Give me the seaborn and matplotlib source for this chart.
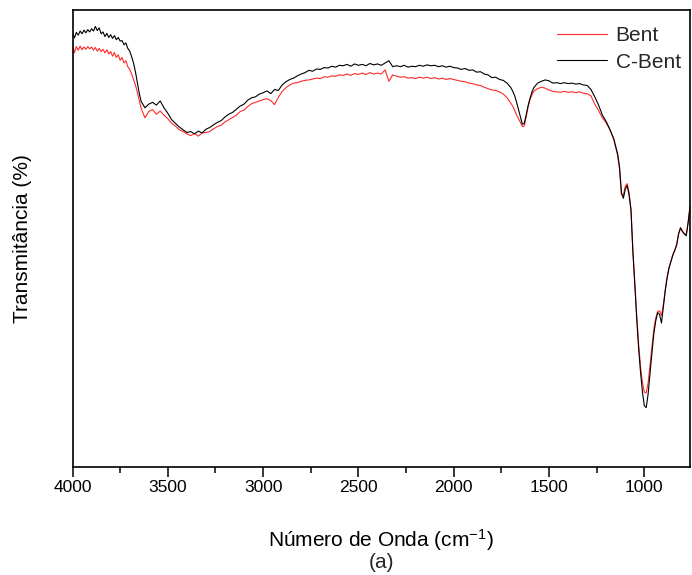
import numpy as np
import pandas as pd
import seaborn as sns
import matplotlib.pyplot as plt
from matplotlib.ticker import MultipleLocator

# Wavenumber grid (cm-1)
wavenumber = (
    list(range(4000, 3649, -10))
    + list(range(3640, 3299, -20))
    + list(range(3280, 1999, -20))
    + list(range(1980, 1699, -20))
    + list(range(1690, 1579, -10))
    + list(range(1560, 1299, -20))
    + list(range(1280, 1139, -20))
    + list(range(1130, 759, -10))
)

cbent = [
    # 4000 -> 3650
    95.0, 93.9, 95.1, 94.5, 95.4, 94.8, 95.6, 95.0, 95.7, 95.2, 95.9, 95.4,
    96.4, 95.5, 96.1, 94.8, 95.2, 94.2, 94.9, 94.0, 94.6, 93.8, 94.4, 93.5,
    94.0, 93.2, 93.3, 92.4, 92.8, 91.6, 91.0, 89.8, 88.4, 86.5, 84.2, 81.8,
    # 3640 -> 3300
    80.0, 78.6, 79.4, 79.8, 79.2, 80.1, 78.6, 77.4, 76.0, 75.2, 74.4, 73.8,
    73.2, 73.4, 72.9, 73.5, 73.1, 73.9,
    # 3280 -> 2000
    74.3, 74.9, 75.4, 75.8, 76.6, 77.2, 77.6, 78.3, 79.0, 79.4, 80.3, 80.8,
    81.0, 81.6, 81.9, 82.3, 81.7, 82.6, 82.4, 83.6, 84.3, 84.8, 85.1, 85.6,
    86.0, 86.3, 86.8, 86.6, 87.1, 87.0, 87.4, 87.3, 87.7, 87.5, 87.9, 87.8,
    88.1, 87.7, 88.2, 87.9, 88.1, 87.8, 88.3, 88.0, 88.2, 87.9, 88.4, 88.9,
    87.6, 87.8, 87.6, 87.9, 87.5, 87.7, 87.6, 87.9, 87.7, 88.0, 87.8, 87.9,
    87.6, 87.8, 87.5, 87.7, 87.4,
    # 1980 -> 1700
    87.3, 87.0, 87.2, 86.8, 86.9, 86.4, 86.5, 86.0, 85.8, 85.2, 85.3, 84.8,
    84.6, 84.0, 83.0,
    # 1690 -> 1580
    82.2, 81.2, 79.8, 78.2, 76.6, 75.0, 75.2, 77.0, 79.0, 80.6, 82.0, 83.0,
    # 1560 -> 1300
    84.0, 84.4, 84.7, 84.5, 84.0, 84.1, 83.9, 84.1, 83.9, 84.0, 83.8, 83.9,
    83.6, 83.5,
    # 1280 -> 1140
    82.6, 81.0, 79.2, 77.0, 75.6, 73.8, 71.8, 68.5,
    # 1130 -> 760
    65.6, 60.0, 58.8, 60.8, 61.6, 59.5, 56.2, 47.0, 40.0, 32.5, 26.0, 20.8,
    16.5, 13.4, 13.0, 16.0, 20.6, 25.0, 29.2, 32.0, 33.8, 33.4, 31.5, 35.0,
    38.6, 41.5, 43.6, 45.0, 46.4, 47.4, 48.6, 51.0, 52.3, 51.5, 51.0, 50.6,
    53.5, 57.0,
]

bent = [
    # 4000 -> 3650
    92.3, 90.6, 92.0, 91.2, 92.1, 91.3, 91.9, 91.4, 92.0, 91.5, 91.9, 91.2,
    91.8, 91.0, 91.6, 90.9, 91.4, 90.6, 91.3, 90.4, 90.9, 89.9, 90.7, 89.6,
    90.2, 89.0, 89.6, 88.4, 88.9, 87.6, 87.0, 86.0, 84.8, 83.6, 82.0, 80.2,
    # 3640 -> 3300
    78.5, 76.4, 77.8, 78.2, 77.2, 77.9, 77.0, 76.2, 75.2, 74.6, 73.8, 73.4,
    72.9, 72.5, 73.0, 72.4, 73.1, 73.2,
    # 3280 -> 2000
    73.4, 74.0, 74.5, 74.8, 75.5, 76.0, 76.5, 77.0, 77.8, 78.1, 78.9, 79.5,
    79.8, 80.1, 80.4, 80.6, 80.2, 79.3, 80.9, 82.2, 83.0, 83.6, 84.0, 84.1,
    84.4, 84.6, 84.7, 84.9, 85.1, 85.0, 85.4, 85.3, 85.6, 85.5, 85.8, 85.7,
    86.0, 85.7, 86.1, 85.9, 86.2, 85.9, 86.3, 86.0, 86.2, 86.0, 86.9, 84.4,
    85.8, 85.5, 85.3, 85.4, 85.1, 85.2, 85.0, 85.3, 85.1, 85.3, 85.0, 85.2,
    84.9, 85.1, 84.8, 85.0, 84.8,
    # 1980 -> 1700
    84.6, 84.4, 84.3, 84.0, 83.9, 83.6, 83.5, 83.1, 82.8, 82.5, 82.4, 82.1,
    81.6, 80.8, 79.6,
    # 1690 -> 1580
    78.9, 78.0, 77.0, 76.2, 75.4, 74.5, 74.6, 76.6, 78.8, 80.4, 81.4, 82.2,
    # 1560 -> 1300
    82.8, 83.1, 82.9, 82.5, 82.2, 82.1, 82.0, 82.2, 82.0, 82.1, 81.9, 82.1,
    81.8, 81.7,
    # 1280 -> 1140
    81.2, 79.4, 78.0, 76.4, 75.3, 73.8, 71.6, 68.2,
    # 1130 -> 760
    65.2, 59.6, 59.5, 61.4, 62.0, 60.0, 56.4, 47.5, 40.5, 33.2, 27.0, 22.0,
    18.5, 16.4, 16.2, 18.4, 22.4, 26.5, 30.2, 32.6, 34.0, 34.2, 33.2, 35.6,
    38.9, 41.6, 43.7, 45.1, 46.5, 47.5, 48.8, 51.2, 52.4, 51.6, 51.1, 50.8,
    53.6, 57.2,
]

samples = ['Bent', 'C-Bent']
colors = {'Bent': '#ff2a2a', 'C-Bent': 'black'}

df = pd.concat([
    pd.DataFrame({'wn': wavenumber, 'T': bent, 'amostra': 'Bent'}),
    pd.DataFrame({'wn': wavenumber, 'T': cbent, 'amostra': 'C-Bent'}),
])

sns.set_style('ticks')
plt.rcParams['font.family'] = ['Liberation Sans', 'DejaVu Sans']
plt.rcParams['mathtext.fontset'] = 'custom'
plt.rcParams['mathtext.rm'] = 'Liberation Sans'
plt.rcParams['mathtext.it'] = 'Liberation Sans'

fig = plt.figure(figsize=(6.92, 5.75), dpi=100)
ax = fig.add_axes([0.1048, 0.1878, 0.8924, 0.7948])

sns.lineplot(data=df, x='wn', y='T', hue='amostra', hue_order=samples,
             palette=colors, estimator=None, sort=False, linewidth=0.8, ax=ax)

ax.set_xlim(4000, 760)
ax.set_ylim(0, 100)
ax.xaxis.set_major_locator(MultipleLocator(500))
ax.xaxis.set_minor_locator(MultipleLocator(250))
ax.tick_params(axis='x', which='major', direction='out', length=7, width=1.1,
               labelsize=12.5, color='black', labelcolor='black', pad=2)
ax.tick_params(axis='x', which='minor', direction='out', length=4, width=1.1,
               color='black')
ax.set_yticks([])
for s in ax.spines.values():
    s.set_visible(True)
    s.set_color('black')
    s.set_linewidth(1.2)

ax.set_xlabel('Número de Onda (cm$^{-1}$)', fontsize=15, color='black')
ax.xaxis.set_label_coords(0.5, -0.132)
ax.set_ylabel('Transmitância (%)', fontsize=15, color='black')
ax.yaxis.set_label_coords(-0.066, 0.5)
fig.text(0.551, 0.021, '(a)', fontsize=15, ha='center', va='center')

ax.legend(title=None, frameon=False, loc='upper right',
          bbox_to_anchor=(0.995, 0.978), fontsize=15,
          handlelength=2.4, handletextpad=0.4, labelspacing=0.35,
          borderaxespad=0, borderpad=0.3)

fig.savefig('out.png', dpi=100)
